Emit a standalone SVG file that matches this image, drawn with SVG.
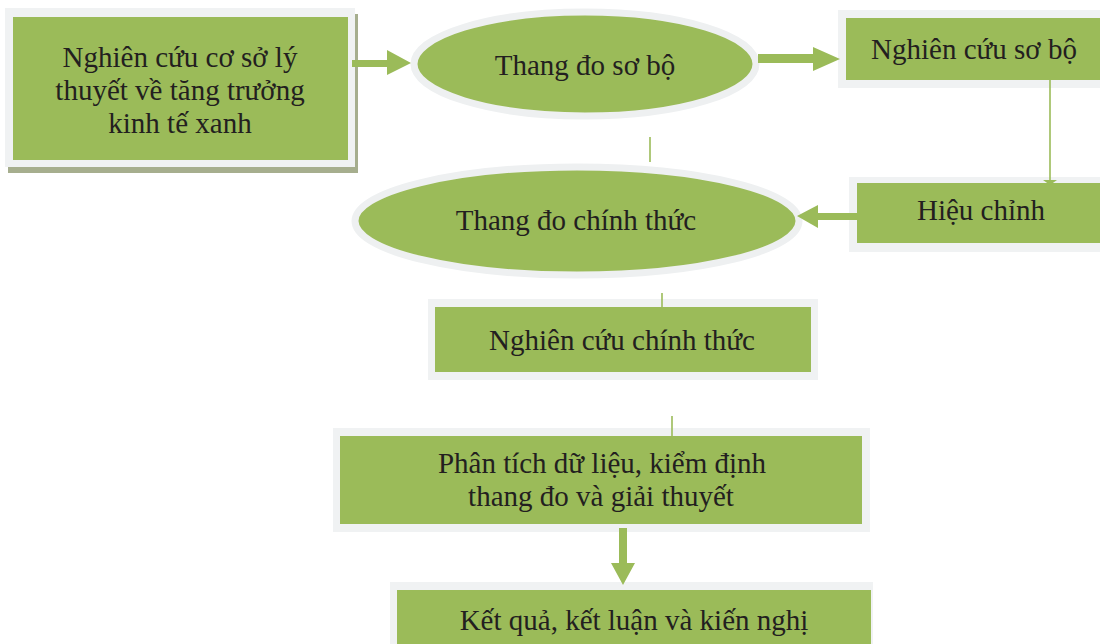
<svg xmlns="http://www.w3.org/2000/svg" width="1100" height="644" viewBox="0 0 1100 644">
<style>
.g{fill:#9bbb59}
.halo{fill:#f0f2f3}
.sh{fill:#a6ae8e}
.el{fill:#9bbb59;stroke:#eef0f1;stroke-width:7}
.t{font-family:"Liberation Serif","Times New Roman",serif;font-size:29px;fill:#231f20;text-anchor:middle}
.ln{stroke:#9bbb59;stroke-width:1.6;fill:none}
.ar{fill:#9bbb59}
</style>
<rect width="1100" height="644" fill="#ffffff"/>
<g id="n1">
<rect class="sh" x="8" y="14" width="350" height="159"/>
<rect class="halo" x="5" y="8" width="350" height="159"/>
<rect class="g" x="13" y="17" width="335" height="143"/>
<text class="t" x="180" y="67">Nghiên cứu cơ sở lý</text>
<text class="t" x="180" y="100">thuyết về tăng trưởng</text>
<text class="t" x="180" y="133">kinh tế xanh</text>
</g>
<g id="n2">
<ellipse class="el" cx="585" cy="64" rx="171" ry="52"/>
<text class="t" x="585" y="75">Thang đo sơ bộ</text>
</g>
<g id="n3">
<rect class="halo" x="838" y="10" width="262" height="78"/>
<rect class="g" x="846" y="18" width="254" height="62"/>
<text class="t" x="974" y="59">Nghiên cứu sơ bộ</text>
</g>
<g id="n4">
<rect class="halo" x="849" y="177" width="251" height="75"/>
<rect class="g" x="857" y="183" width="243" height="60"/>
<text class="t" x="981" y="220">Hiệu chỉnh</text>
</g>
<g id="n5">
<ellipse class="el" cx="577" cy="221" rx="222" ry="54"/>
<text class="t" x="576" y="230">Thang đo chính thức</text>
</g>
<g id="n6">
<rect class="halo" x="428" y="299" width="390" height="81"/>
<rect class="g" x="435" y="307" width="376" height="65"/>
<text class="t" x="622" y="350">Nghiên cứu chính thức</text>
</g>
<g id="n7">
<rect class="halo" x="333" y="428" width="537" height="104"/>
<rect class="g" x="340" y="436" width="522" height="88"/>
<text class="t" x="602" y="473">Phân tích dữ liệu, kiểm định</text>
<text class="t" x="601" y="506">thang đo và giải thuyết</text>
</g>
<g id="n8">
<rect class="halo" x="390" y="582" width="483" height="62"/>
<rect class="g" x="397" y="590" width="474" height="54"/>
<text class="t" x="634" y="630">Kết quả, kết luận và kiến nghị</text>
</g>
<g id="connectors">
<polygon class="ar" points="352,60 387,60 387,50 411,63 387,75 387,67 352,67"/>
<polygon class="ar" points="758,54 813,54 813,47 840,59 813,71 813,63 758,63"/>
<line class="ln" x1="1050" y1="80" x2="1050" y2="182"/>
<polygon class="ar" points="1043,180 1057,180 1050,185"/>
<polygon class="ar" points="857,213 818,213 818,205 797,216 818,228 818,220 857,220"/>
<line class="ln" x1="650" y1="137" x2="650" y2="162"/>
<line class="ln" x1="662" y1="293" x2="662" y2="308"/>
<line class="ln" x1="672" y1="416" x2="672" y2="437"/>
<polygon class="ar" points="619,528 627,528 627,563 635,563 623,585 611,563 619,563"/>
</g>
</svg>
